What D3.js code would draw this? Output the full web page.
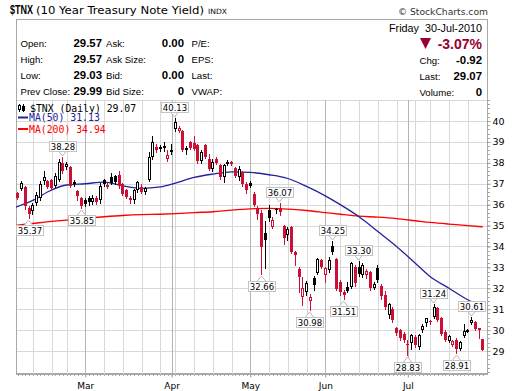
<!DOCTYPE html>
<html>
<head>
<meta charset="utf-8">
<script src="https://cdn.jsdelivr.net/npm/d3@7"></script>
<style>
body { margin: 0; background: #fff; }
svg { display: block; }
</style>
</head>
<body>
<div id="chart"></div>
<script>
'use strict';

// trading calendar
var firstDay = '2010-02-01';
var lastDay = '2010-07-30';
var holidays = ['2010-02-15', '2010-04-02', '2010-05-31', '2010-07-05'];

// daily OHLC of $TNX, one value per trading day (Feb 1 .. Jul 30)
var opens = [
    36.1, 36.55, 36.75, 36.85, 35.85, 35.7, 36.1, 36.3, 37.13, 37.13,
    37.18, 36.9, 37.2, 38.0, 37.8, 37.8, 37.1, 36.65, 36.3, 36.2,
    36.3, 36.15, 36.3, 36.2, 37.2, 36.85, 37.3, 37.35, 37.4, 37.0,
    36.7, 36.2, 36.22, 36.7, 36.85, 36.6, 37.2, 38.3, 38.77, 38.75,
    38.8, 38.18, 38.55, 39.6, 39.52, 39.5, 38.7, 39.0, 38.95, 38.85,
    38.1, 38.85, 38.2, 37.7, 38.2, 37.9, 37.3, 38.0, 37.97, 37.75,
    37.3, 37.55, 37.0, 37.05, 36.5, 35.85, 35.6, 34.65, 35.75, 34.95,
    35.8, 35.85, 35.0, 34.55, 34.95, 33.75, 32.9, 31.6, 31.83, 31.4,
    32.47, 32.74, 33.35, 32.63, 32.87, 34.02, 33.38, 32.31, 31.83, 32.07,
    32.07, 33.03, 33.0, 32.63, 32.63, 32.8, 32.0, 32.95, 32.1, 31.7,
    30.71, 31.03, 30.1, 29.99, 29.8, 29.35, 29.39, 29.67, 29.17, 30.0,
    30.35, 30.45, 30.65, 31.05, 30.6, 29.9, 29.5, 29.3, 29.55, 29.1,
    29.7, 29.95, 30.35, 30.4, 30.08, 29.57
];
var highs = [
    36.5, 36.62, 37.12, 36.9, 35.95, 36.1, 36.6, 37.15, 37.6, 37.2,
    37.25, 37.5, 38.2, 38.28, 38.05, 37.85, 37.2, 36.7, 36.35, 36.3,
    36.4, 36.45, 36.4, 37.05, 37.25, 37.05, 37.5, 37.4, 37.6, 37.05,
    36.75, 36.4, 36.75, 37.15, 37.0, 36.85, 38.5, 39.28, 38.9, 38.85,
    39.0, 38.6, 38.88, 40.13, 39.75, 39.55, 38.8, 39.05, 39.3, 38.9,
    38.6, 38.9, 38.4, 38.2, 38.3, 37.95, 37.95, 38.15, 38.1, 37.8,
    37.85, 37.6, 37.1, 37.15, 36.6, 35.95, 35.75, 35.2, 36.0, 35.4,
    35.85, 36.07, 35.05, 34.95, 35.0, 33.8, 33.0, 32.55, 32.35, 31.75,
    32.6, 33.45, 33.4, 33.0, 33.5, 34.25, 33.45, 32.4, 31.9, 32.3,
    33.25, 33.1, 33.3, 33.2, 32.9, 32.85, 32.3, 33.1, 32.2, 31.85,
    31.3, 31.1, 30.15, 30.05, 29.9, 29.55, 29.8, 29.75, 29.8, 30.3,
    30.6, 30.5, 31.24, 31.1, 30.65, 30.0, 29.75, 29.55, 29.6, 29.5,
    30.3, 30.05, 30.61, 30.45, 30.1, 29.57
];
var lows = [
    35.95, 36.25, 36.68, 35.8, 35.37, 35.55, 36.0, 36.2, 37.0, 36.8,
    36.7, 36.85, 37.15, 37.5, 37.7, 36.85, 36.9, 36.2, 35.85, 35.95,
    36.0, 36.05, 36.05, 36.1, 36.9, 36.8, 37.0, 37.0, 36.8, 36.45,
    36.3, 36.1, 36.1, 36.6, 36.55, 36.5, 37.15, 38.2, 38.5, 38.55,
    38.55, 38.1, 38.4, 39.5, 39.45, 38.55, 38.4, 38.65, 38.6, 38.0,
    38.0, 38.25, 37.65, 37.6, 37.95, 37.25, 37.1, 37.9, 37.9, 37.3,
    37.2, 36.9, 36.55, 36.85, 35.95, 35.3, 32.66, 32.95, 35.2, 34.9,
    35.6, 35.5, 34.1, 34.3, 33.7, 33.1, 31.8, 31.2, 31.7, 30.98,
    31.9, 32.7, 32.95, 32.3, 32.8, 33.65, 31.9, 31.7, 31.51, 31.8,
    32.0, 32.1, 32.6, 32.55, 32.5, 31.9, 31.95, 32.3, 31.5, 31.0,
    30.6, 30.4, 29.75, 29.55, 29.45, 28.83, 29.1, 29.2, 29.1, 29.9,
    30.2, 30.3, 30.6, 30.45, 29.75, 29.5, 29.45, 29.25, 28.91, 29.05,
    29.65, 29.9, 30.3, 30.0, 29.6, 29.03
];
var closes = [
    36.45, 36.3, 37.03, 35.95, 35.55, 36.0, 36.45, 36.97, 37.34, 36.86,
    36.78, 37.35, 38.05, 37.6, 37.95, 36.9, 36.98, 36.4, 35.95, 36.05,
    36.12, 36.3, 36.15, 36.9, 36.98, 36.95, 37.05, 37.1, 36.9, 36.5,
    36.35, 36.3, 36.7, 37.1, 36.6, 36.8, 38.3, 39.0, 38.6, 38.65,
    38.7, 38.37, 38.6, 39.97, 39.68, 38.62, 38.72, 38.7, 38.65, 38.1,
    38.5, 38.3, 37.7, 38.05, 38.0, 37.3, 37.9, 38.05, 38.02, 37.35,
    37.7, 37.0, 36.7, 36.9, 36.0, 35.55, 33.95, 34.3, 35.35, 35.25,
    35.72, 35.65, 34.4, 34.85, 33.75, 33.6, 32.55, 31.99, 32.26, 31.56,
    32.15, 33.38, 33.03, 32.95, 33.35, 33.75, 31.95, 31.83, 31.67, 31.88,
    33.22, 32.23, 32.7, 33.1, 32.84, 32.0, 32.2, 32.39, 31.62, 31.11,
    31.24, 30.48, 29.85, 29.6, 29.55, 29.3, 29.75, 29.27, 29.76, 30.19,
    30.56, 30.4, 31.1, 30.5, 29.8, 29.55, 29.7, 29.5, 29.1, 29.45,
    29.95, 30.0, 30.5, 30.05, 29.99, 29.07
];

// moving averages, read once a week off the chart
var maDays = [
    '2010-02-01', '2010-02-08', '2010-02-16', '2010-02-22', '2010-03-01', '2010-03-08',
    '2010-03-15', '2010-03-22', '2010-03-29', '2010-04-05', '2010-04-12', '2010-04-19',
    '2010-04-26', '2010-05-03', '2010-05-10', '2010-05-17', '2010-05-24', '2010-06-01',
    '2010-06-07', '2010-06-14', '2010-06-21', '2010-06-28', '2010-07-06', '2010-07-12',
    '2010-07-19', '2010-07-26', '2010-07-30'
];
var ma50 = [35.85, 36.2, 36.7, 36.94, 37.0, 37.08, 36.9, 36.78, 36.85, 37.03, 37.3, 37.46,
    37.57, 37.54, 37.43, 37.25, 36.87, 36.42, 36.0, 35.42, 34.72, 34.0, 33.2, 32.55,
    32.0, 31.45, 31.13];
var ma200 = [35.0, 35.1, 35.2, 35.26, 35.35, 35.42, 35.48, 35.52, 35.54, 35.57, 35.62, 35.66,
    35.74, 35.8, 35.82, 35.79, 35.72, 35.62, 35.54, 35.45, 35.4, 35.33, 35.23, 35.15,
    35.07, 35.0, 34.94];

// swing highs / lows that get a value tag
var peakDays = ['2010-02-19', '2010-04-05', '2010-05-13', '2010-06-03', '2010-06-14', '2010-07-13', '2010-07-27'];
var troughDays = ['2010-02-05', '2010-02-26', '2010-05-06', '2010-05-25', '2010-06-08', '2010-07-01', '2010-07-21'];

var yTicks = [29, 30, 31, 32, 33, 34, 35, 36, 37, 38, 39, 40];

// header quote box
var quoteLeft = [['Open:', '29.57'], ['High:', '29.57'], ['Low:', '29.03'], ['Prev Close:', '29.99']];
var quoteMid = [['Ask:', '0.00'], ['Ask Size:', '0'], ['Bid:', '0.00'], ['Bid Size:', '0']];
var quoteTail = ['P/E:', 'EPS:', 'Last:', 'VWAP:'];
var quoteRight = [['Chg:', '-0.92'], ['Last:', '29.07'], ['Volume:', '0']];

var RED = '#cc1035';
var BLUE = '#22229a';
var MARed = '#ff0000';
var W = 520, H = 391;
var L = 16, R = 488, T = 100, B = 374, BOX_TOP = 19;

var parse = d3.timeParse('%Y-%m-%d');
var fmt = d3.timeFormat('%Y-%m-%d');
var days = d3.timeDay.range(parse(firstDay), d3.timeDay.offset(parse(lastDay), 1))
    .filter(function (d) {
        var w = d.getDay();
        return w !== 0 && w !== 6 && holidays.indexOf(fmt(d)) < 0;
    })
    .map(fmt);

var candles = days.map(function (d, i) {
    return {date: d, o: opens[i], h: highs[i], l: lows[i], c: closes[i],
        up: i === 0 ? closes[i] >= opens[i] : closes[i] >= closes[i - 1]};
});

var x = d3.scalePoint().domain(days).range([14.05, 482.8]);
var y = d3.scaleLinear().domain([29, 40]).range([351, 121]);

var svg = d3.select('#chart').append('svg')
    .attr('width', W).attr('height', H)
    .style('font-family', '"DejaVu Sans", sans-serif');

svg.append('defs').append('clipPath').attr('id', 'plot')
    .append('rect').attr('x', L).attr('y', T).attr('width', R - L).attr('height', B - T);

// ---- title
svg.append('g').attr('transform', 'translate(10,14) scale(0.72,1)')
    .append('text').attr('x', 0).attr('y', 0)
    .attr('font-family', '"Liberation Sans", Arial').attr('font-weight', 'bold')
    .attr('font-size', 12.5).text('$TNX');
svg.append('text').attr('x', 36).attr('y', 14).attr('font-size', 11)
    .attr('textLength', 168).attr('lengthAdjust', 'spacingAndGlyphs').text('(10 Year Treasury Note Yield)');
svg.append('text').attr('x', 208).attr('y', 14).attr('font-size', 7.3)
    .attr('textLength', 19).attr('lengthAdjust', 'spacingAndGlyphs').text('INDX');
svg.append('text').attr('x', 488).attr('y', 15).attr('text-anchor', 'end')
    .attr('font-size', 9.2).attr('fill', '#333').text('\u00a9 StockCharts.com');

// ---- frame
svg.append('rect').attr('x', L + 0.5).attr('y', BOX_TOP + 0.5)
    .attr('width', R - L - 1).attr('height', B - BOX_TOP - 1)
    .attr('fill', '#fff').attr('stroke', '#a8a8a8');

// ---- quote block
var hdr = svg.append('g').attr('font-family', '"Liberation Sans", Arial, sans-serif');
var rowY = [47, 63, 79, 95];
quoteLeft.forEach(function (q, i) {
    hdr.append('text').attr('x', 20.5).attr('y', rowY[i]).attr('font-size', 9.6).text(q[0]);
    hdr.append('text').attr('x', 102).attr('y', rowY[i]).attr('font-size', 11.4).attr('font-weight', 'bold')
        .attr('text-anchor', 'end').text(q[1]);
});
quoteMid.forEach(function (q, i) {
    hdr.append('text').attr('x', 106).attr('y', rowY[i]).attr('font-size', 9.6).text(q[0]);
    hdr.append('text').attr('x', 184).attr('y', rowY[i]).attr('font-size', 11.4).attr('font-weight', 'bold')
        .attr('text-anchor', 'end').text(q[1]);
});
quoteTail.forEach(function (q, i) {
    hdr.append('text').attr('x', 191.5).attr('y', rowY[i]).attr('font-size', 9.6).text(q);
});
hdr.append('text').attr('x', 482).attr('y', 31.5).attr('font-size', 10.8).attr('text-anchor', 'end')
    .text('Friday\u00a0\u00a030-Jul-2010');
hdr.append('path').attr('d', 'M420,38 L431,38 L425.5,49 Z').attr('fill', '#990033');
hdr.append('text').attr('x', 482).attr('y', 48.5).attr('font-size', 14).attr('font-weight', 'bold')
    .attr('fill', '#990033').attr('text-anchor', 'end').text('-3.07%');
quoteRight.forEach(function (q, i) {
    hdr.append('text').attr('x', 419.5).attr('y', rowY[i + 1] + 1).attr('font-size', 9.6).text(q[0]);
    hdr.append('text').attr('x', 482).attr('y', rowY[i + 1] + 1).attr('font-size', 11.4).attr('font-weight', 'bold')
        .attr('text-anchor', 'end').text(q[1]);
});

// ---- grid
var grid = svg.append('g').attr('shape-rendering', 'crispEdges');
grid.selectAll('line.h').data(d3.range(29, 42)).join('line')
    .attr('x1', L).attr('x2', R)
    .attr('y1', function (d) { return Math.round(y(d)) + 0.5; })
    .attr('y2', function (d) { return Math.round(y(d)) + 0.5; })
    .attr('stroke', '#d8d8d8');

var weekStarts = days.filter(function (d, i) {
    return i > 0 && parse(d).getDay() < parse(days[i - 1]).getDay();
});
var monthStarts = days.filter(function (d, i) {
    return i > 0 && parse(d).getMonth() !== parse(days[i - 1]).getMonth();
});
grid.selectAll('line.w').data(weekStarts).join('line')
    .attr('x1', function (d) { return Math.round(x(d)) + 0.5; })
    .attr('x2', function (d) { return Math.round(x(d)) + 0.5; })
    .attr('y1', T).attr('y2', B)
    .attr('stroke', '#d8d8d8');
grid.selectAll('line.m').data(monthStarts).join('line')
    .attr('x1', function (d) { return Math.round(x(d)) + 0.5; })
    .attr('x2', function (d) { return Math.round(x(d)) + 0.5; })
    .attr('y1', T).attr('y2', B)
    .attr('stroke', '#b4b4b4');

// plot border left / right / bottom
grid.append('path')
    .attr('d', 'M' + (L + 0.5) + ',' + BOX_TOP + 'V' + (B + 0.5) + 'H' + (R - 0.5) + 'V' + BOX_TOP)
    .attr('fill', 'none').attr('stroke', '#a8a8a8');

// ---- axes
var yAxis = d3.axisRight(y).tickValues(yTicks).tickSize(3).tickPadding(2);
var ya = svg.append('g').attr('transform', 'translate(' + (R - 0.5) + ',0)').call(yAxis);
ya.select('.domain').remove();
ya.selectAll('line').attr('stroke', '#888');
ya.selectAll('text').attr('font-size', 9.5).attr('fill', '#000').attr('font-family', '"DejaVu Sans", sans-serif');
svg.append('g').attr('shape-rendering', 'crispEdges').selectAll('line')
    .data(d3.range(28, 41.01, 0.2)).join('line')
    .attr('x1', R).attr('x2', R + 2)
    .attr('y1', function (d) { return Math.round(y(d)) + 0.5; })
    .attr('y2', function (d) { return Math.round(y(d)) + 0.5; })
    .attr('stroke', '#aaa');

var xa = svg.append('g').attr('transform', 'translate(0,' + (B - 0.5) + ')')
    .call(d3.axisBottom(x).tickValues(monthStarts).tickSize(4)
        .tickFormat(function (d) { return d3.timeFormat('%b')(parse(d)); }));
xa.select('.domain').remove();
xa.selectAll('line').attr('stroke', '#999');
xa.selectAll('text').attr('font-size', 9).attr('fill', '#000').attr('dy', '0.9em')
    .attr('font-family', '"DejaVu Sans", sans-serif');
svg.append('g').attr('shape-rendering', 'crispEdges').selectAll('line')
    .data(days.filter(function (d) { return x(d) > L; })).join('line')
    .attr('x1', function (d) { return Math.round(x(d)) + 0.5; })
    .attr('x2', function (d) { return Math.round(x(d)) + 0.5; })
    .attr('y1', B).attr('y2', B + 2)
    .attr('stroke', '#aaa');

// ---- moving averages
var plot = svg.append('g').attr('clip-path', 'url(#plot)');
var maLine = function (vals) {
    return d3.line()
        .x(function (d, i) { return x(maDays[i]); })
        .y(function (d) { return y(d); })
        .curve(d3.curveMonotoneX)(vals);
};
plot.append('path').attr('d', maLine(ma200)).attr('fill', 'none').attr('stroke', MARed).attr('stroke-width', 1.3);
plot.append('path').attr('d', maLine(ma50)).attr('fill', 'none').attr('stroke', BLUE).attr('stroke-width', 1.3);

// ---- candles
var cg = plot.selectAll('g.candle').data(candles).join('g').attr('class', 'candle')
    .attr('shape-rendering', 'crispEdges');
function left(d) { return Math.round(x(d.date) - 1.5); }
cg.append('line')
    .attr('x1', function (d) { return left(d) + 1.5; })
    .attr('x2', function (d) { return left(d) + 1.5; })
    .attr('y1', function (d) { return Math.round(y(d.h)); })
    .attr('y2', function (d) { return Math.round(y(d.l)) + 1; })
    .attr('stroke', function (d) { return d.up ? '#000' : RED; });
cg.append('rect')
    .attr('x', function (d) { return d.c > d.o ? left(d) + 0.5 : left(d); })
    .attr('y', function (d) {
        var t = Math.round(y(Math.max(d.o, d.c)));
        return d.c > d.o ? t + 0.5 : t;
    })
    .attr('width', function (d) { return d.c > d.o ? 2 : 3; })
    .attr('height', function (d) {
        var h = Math.max(1, Math.round(y(Math.min(d.o, d.c))) - Math.round(y(Math.max(d.o, d.c))));
        return d.c > d.o ? Math.max(1, h - 1) : h;
    })
    .attr('fill', function (d) { return d.c > d.o ? '#fff' : (d.up ? '#000' : RED); })
    .attr('stroke', function (d) { return d.c > d.o ? (d.up ? '#000' : RED) : 'none'; });

// ---- value tags
function tag(date, isPeak) {
    var d = candles[days.indexOf(date)];
    var cx = Math.round(x(date)) - 0.5;
    var v = isPeak ? d.h : d.l;
    var tip = isPeak ? Math.round(y(v)) - 1 : Math.round(y(v)) + 2;
    var bw = 27, bh = 10;
    var by = isPeak ? tip - 5 - bh : tip + 5;
    var bx = Math.max(L + 0.5, Math.min(R - 1.5 - bw, Math.round(cx - bw / 2) + 0.5));
    var edge = isPeak ? by + bh : by;
    svg.append('path')
        .attr('d', 'M' + (cx - 4) + ',' + edge + 'L' + cx + ',' + tip + 'L' + (cx + 4) + ',' + edge)
        .attr('fill', '#fff').attr('stroke', '#b8b8b8');
    svg.append('rect').attr('x', bx).attr('y', Math.round(by) + 0.5).attr('width', bw).attr('height', bh)
        .attr('fill', '#fff').attr('stroke', '#c4c4c4');
    svg.append('text').attr('x', bx + bw / 2).attr('y', Math.round(by) + bh - 1)
        .attr('text-anchor', 'middle').attr('font-size', 8.5).text(v.toFixed(2));
}
peakDays.forEach(function (d) { tag(d, true); });
troughDays.forEach(function (d) { tag(d, false); });

// ---- legend
var lg = svg.append('g').attr('font-family', '"DejaVu Sans Mono", monospace').attr('font-size', 9.8);
lg.append('line').attr('x1', 19.5).attr('x2', 19.5).attr('y1', 104).attr('y2', 112).attr('stroke', '#000');
lg.append('rect').attr('x', 18.5).attr('y', 105.5).attr('width', 2).attr('height', 4).attr('fill', '#fff').attr('stroke', '#000');
lg.append('line').attr('x1', 23.5).attr('x2', 23.5).attr('y1', 104).attr('y2', 112).attr('stroke', '#000');
lg.append('rect').attr('x', 22).attr('y', 106).attr('width', 3).attr('height', 5).attr('fill', '#000');
lg.append('text').attr('x', 30).attr('y', 111.5).text('$TNX (Daily) ' + closes[closes.length - 1].toFixed(2));
lg.append('line').attr('x1', 18).attr('x2', 28).attr('y1', 117.5).attr('y2', 117.5).attr('stroke', BLUE).attr('stroke-width', 2);
lg.append('text').attr('x', 29).attr('y', 121).attr('fill', BLUE).text('MA(50) ' + ma50[ma50.length - 1].toFixed(2));
lg.append('line').attr('x1', 18).attr('x2', 28).attr('y1', 129).attr('y2', 129).attr('stroke', MARed).attr('stroke-width', 2);
lg.append('text').attr('x', 29).attr('y', 132.5).attr('fill', MARed).text('MA(200) ' + ma200[ma200.length - 1].toFixed(2));
</script>
</body>
</html>
